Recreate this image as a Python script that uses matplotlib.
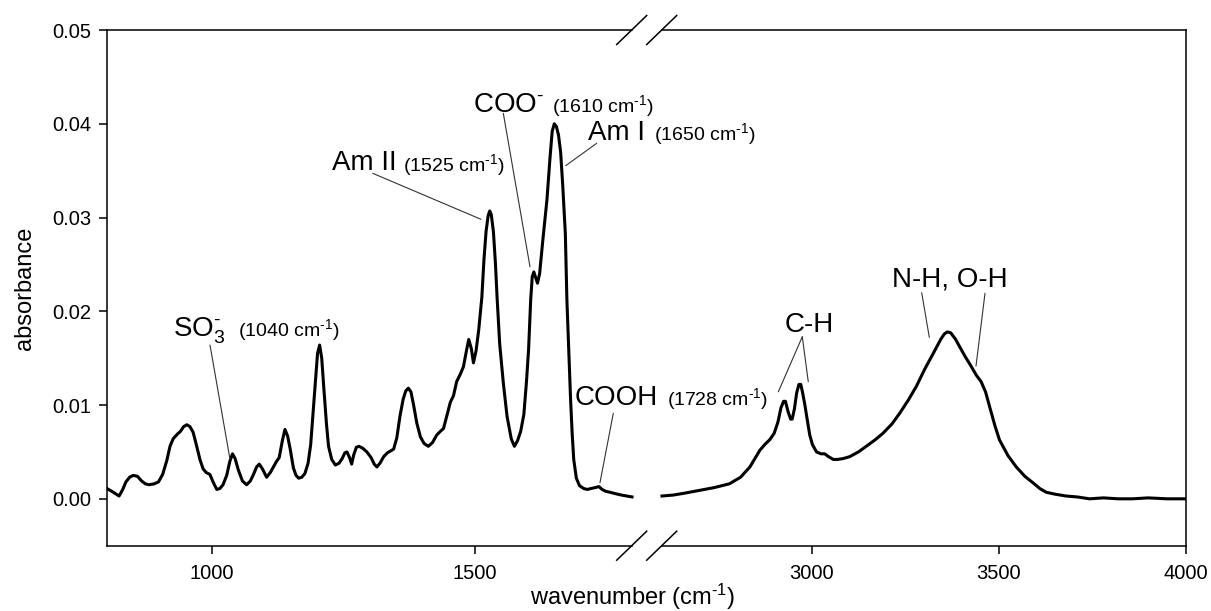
import numpy as np
import matplotlib
matplotlib.use("Agg")
import matplotlib.pyplot as plt
from matplotlib.ticker import FixedLocator, FormatStrFormatter

plt.rcParams['font.family'] = ['Liberation Sans', 'DejaVu Sans']
plt.rcParams['mathtext.fontset'] = 'custom'
plt.rcParams['mathtext.rm'] = 'Liberation Sans'
plt.rcParams['mathtext.it'] = 'Liberation Sans:italic'
plt.rcParams['mathtext.bf'] = 'Liberation Sans:bold'

# ---------------- data ----------------
left_wn = [800, 812, 823, 830, 836, 843, 850, 858, 866, 873, 880, 890, 898, 906, 914, 920, 926, 934, 940, 946,
           952, 958, 964, 970, 977, 983, 989, 996, 1002, 1009, 1015, 1021, 1028, 1034, 1039, 1044, 1050, 1058,
           1066, 1073, 1079, 1085, 1090, 1096, 1104, 1111, 1117, 1123, 1128, 1134, 1139, 1144, 1149, 1155, 1160,
           1165, 1171, 1177, 1183, 1188, 1193, 1197, 1201, 1205, 1209, 1213, 1218, 1222, 1228, 1235, 1242, 1248,
           1253, 1257, 1262, 1266, 1270, 1275, 1280, 1287, 1295, 1303, 1309, 1314, 1320, 1327, 1334, 1340, 1346,
           1352, 1358, 1364, 1369, 1374, 1379, 1384, 1390, 1397, 1404, 1412, 1420, 1428, 1435, 1441, 1447, 1454,
           1460, 1466, 1473, 1479, 1484, 1489, 1494, 1498, 1503, 1508, 1514, 1518, 1522, 1526, 1529, 1532, 1536,
           1540, 1543, 1548, 1555, 1562, 1570, 1576, 1582, 1588, 1594, 1599, 1603, 1607, 1610, 1613, 1616, 1620,
           1624, 1630, 1638, 1644, 1648, 1652, 1656, 1660, 1664, 1668, 1673, 1676, 1680, 1683, 1686, 1689, 1694,
           1700, 1708, 1715, 1722, 1730, 1737, 1743, 1750, 1758, 1765, 1772, 1780, 1790, 1800]
left_abs = [0.0011, 0.0007, 0.0003, 0.0010, 0.0018, 0.0023, 0.0025, 0.0024, 0.0019, 0.0016, 0.0015, 0.0016,
            0.0018, 0.0026, 0.0041, 0.0056, 0.0064, 0.0069, 0.0072, 0.0077, 0.0079, 0.0077, 0.0071, 0.0058,
            0.0042, 0.0032, 0.0028, 0.0026, 0.0018, 0.0010, 0.0011, 0.0015, 0.0025, 0.0040, 0.0048, 0.0043,
            0.0031, 0.0019, 0.0015, 0.0019, 0.0026, 0.0034, 0.0037, 0.0032, 0.0023, 0.0028, 0.0034, 0.0040,
            0.0044, 0.0062, 0.0074, 0.0067, 0.0053, 0.0033, 0.0025, 0.0022, 0.0023, 0.0027, 0.0038, 0.0058,
            0.0095, 0.0125, 0.0155, 0.0164, 0.0150, 0.0118, 0.0080, 0.0056, 0.0042, 0.0036, 0.0038, 0.0043,
            0.0049, 0.0050, 0.0044, 0.0037, 0.0047, 0.0055, 0.0056, 0.0054, 0.0050, 0.0044, 0.0037, 0.0034,
            0.0038, 0.0045, 0.0049, 0.0051, 0.0053, 0.0065, 0.0088, 0.0106, 0.0115, 0.0118, 0.0114, 0.0100,
            0.0081, 0.0066, 0.0059, 0.0056, 0.0060, 0.0068, 0.0072, 0.0075, 0.0088, 0.0103, 0.0110, 0.0125,
            0.0133, 0.0141, 0.0156, 0.0170, 0.0160, 0.0145, 0.0158, 0.0180, 0.0215, 0.0255, 0.0285, 0.0302,
            0.0307, 0.0303, 0.0285, 0.0250, 0.0215, 0.0165, 0.0123, 0.0088, 0.0064, 0.0056, 0.0062, 0.0072,
            0.0090, 0.0125, 0.0159, 0.0212, 0.0237, 0.0242, 0.0237, 0.0230, 0.0240, 0.0275, 0.0319, 0.0365,
            0.0392, 0.0400, 0.0397, 0.0388, 0.0370, 0.0335, 0.0283, 0.0212, 0.0150, 0.0106, 0.0070, 0.0042,
            0.0022, 0.0014, 0.0011, 0.0010, 0.0011, 0.0012, 0.0013, 0.0010, 0.0008, 0.0007, 0.0006, 0.0005,
            0.0004, 0.0003, 0.0002]

right_wn = [2600, 2630, 2660, 2700, 2740, 2780, 2810, 2835, 2850, 2862, 2875, 2888, 2900, 2910, 2918, 2925,
            2930, 2937, 2944, 2948, 2954, 2960, 2966, 2971, 2976, 2982, 2988, 2995, 3002, 3013, 3025, 3035,
            3045, 3058, 3070, 3085, 3102, 3125, 3146, 3170, 3191, 3215, 3235, 3258, 3280, 3302, 3325, 3345,
            3355, 3363, 3372, 3385, 3396, 3410, 3427, 3440, 3453, 3465, 3476, 3490, 3502, 3525, 3547, 3570,
            3592, 3610, 3627, 3650, 3680, 3710, 3743, 3780, 3820, 3858, 3900, 3950, 4000]
right_abs = [0.0003, 0.0004, 0.0006, 0.0009, 0.0012, 0.0016, 0.0023, 0.0034, 0.0044, 0.0052, 0.0058, 0.0063,
             0.0070, 0.0082, 0.0097, 0.0104, 0.0104, 0.0093, 0.0085, 0.0085, 0.0096, 0.0113, 0.0122, 0.0122,
             0.0113, 0.0100, 0.0085, 0.0068, 0.0058, 0.0050, 0.0048, 0.0048, 0.0045, 0.0042, 0.0042, 0.0043,
             0.0045, 0.0050, 0.0056, 0.0063, 0.0070, 0.0080, 0.0091, 0.0105, 0.0120, 0.0138, 0.0155, 0.0170,
             0.0176, 0.0178, 0.0177, 0.0170, 0.0162, 0.0152, 0.0141, 0.0132, 0.0125, 0.0114, 0.0098, 0.0078,
             0.0063, 0.0046, 0.0034, 0.0024, 0.0017, 0.0011, 0.0007, 0.0005, 0.0003, 0.0002, 0.0000, 0.0001,
             0.0000, 0.0000, 0.0001, 0.0000, 0.0000]

x_ticks = [1000, 1500, 3000, 3500, 4000]
y_ticks = [0.00, 0.01, 0.02, 0.03, 0.04, 0.05]

# ---------------- broken x scale ----------------
def fwd(x):
    x = np.asarray(x, float)
    return np.where(x <= 1800, (x - 800) * 0.525,
                    np.where(x >= 2600, 555 + (x - 2600) * 0.37407,
                             525 + (x - 1800) * 30 / 800))

def inv(u):
    u = np.asarray(u, float)
    return np.where(u <= 525, 800 + u / 0.525,
                    np.where(u >= 555, 2600 + (u - 555) / 0.37407,
                             1800 + (u - 525) * 800 / 30))

W, H = 1211, 611
fig = plt.figure(figsize=(W / 100, H / 100), dpi=100)
AX_L, AX_R, AX_T, AX_B = 107, 1185.7, 30, 545.7
ax = fig.add_axes([AX_L / W, 1 - AX_B / H, (AX_R - AX_L) / W, (AX_B - AX_T) / H])
ax.set_xscale('function', functions=(fwd, inv))

ax.plot(left_wn, left_abs, color='black', lw=2.2, solid_joinstyle='round')
ax.plot(right_wn, right_abs, color='black', lw=2.2, solid_joinstyle='round')

ax.set_xlim(800, 4000)
ax.set_ylim(-0.005, 0.05)
ax.xaxis.set_major_locator(FixedLocator(x_ticks))
ax.xaxis.set_minor_locator(FixedLocator([]))
ax.yaxis.set_major_locator(FixedLocator(y_ticks))
ax.yaxis.set_major_formatter(FormatStrFormatter('%.2f'))
ax.tick_params(axis='both', direction='out', length=5.5, width=1.1, labelsize=14.5, pad=6)
ax.tick_params(axis='x', pad=8)

for s in ['left', 'right']:
    ax.spines[s].set_linewidth(1.1)
ax.spines['top'].set_visible(False)
ax.spines['bottom'].set_visible(False)

def px2ax(px, py):
    return ((px - AX_L) / (AX_R - AX_L), (AX_B - py) / (AX_B - AX_T))

# top/bottom frame with break
b1 = px2ax(631.7, 0)[0]
b2 = px2ax(661.7, 0)[0]
for yy in (0, 1):
    ax.plot([0, b1], [yy, yy], transform=ax.transAxes, color='black', lw=1.1, clip_on=False)
    ax.plot([b2, 1], [yy, yy], transform=ax.transAxes, color='black', lw=1.1, clip_on=False)
    for bx in (b1, b2):
        dx = 15 / (AX_R - AX_L)
        dy = 14.5 / (AX_B - AX_T)
        ax.plot([bx - dx, bx + dx], [yy - dy, yy + dy], transform=ax.transAxes,
                color='black', lw=1.1, clip_on=False)

SUP = r'$^{\text{-1}}$'
ax.set_ylabel('absorbance', fontsize=17, va='center')
ax.yaxis.set_label_coords(px2ax(25, 0)[0], 0.5)
ax.set_xlabel('wavenumber (cm' + SUP + ')', fontsize=17, va='baseline')
ax.xaxis.set_label_coords(px2ax(633, 0)[0], px2ax(0, 605)[1])

# ---------------- annotations ----------------
BIG, SMALL = 20, 14
def label(px, py, s, size):
    x, y = px2ax(px, py)
    ax.text(x, y, s, transform=ax.transAxes, fontsize=size, ha='left', va='baseline')

label(173.3, 336.5, r'SO$_3^{\text{-}}$', BIG)
label(238.3, 336.5, '(1040 cm' + SUP + ')', SMALL)
label(331.7, 170, 'Am II', BIG)
label(403, 171, '(1525 cm' + SUP + ')', SMALL)
label(473, 112, r'COO$^{\text{-}}$', BIG)
label(551.7, 112, '(1610 cm' + SUP + ')', SMALL)
label(588, 140, 'Am I', BIG)
label(654, 140, '(1650 cm' + SUP + ')', SMALL)
label(575, 405, 'COOH', BIG)
label(666.7, 405, '(1728 cm' + SUP + ')', SMALL)
label(785, 331.7, 'C-H', BIG)
label(891.7, 286.7, 'N-H, O-H', BIG)

def leader(px, py, xd, yd):
    ax.annotate('', xy=(xd, yd), xycoords='data', xytext=px2ax(px, py), textcoords='axes fraction',
                arrowprops=dict(arrowstyle='-', color='#333333', lw=0.8, shrinkA=0, shrinkB=0))

leader(210, 345, 1034.3, 0.00421)
leader(372.7, 173.3, 1512.4, 0.02981)
leader(503.3, 113.3, 1605.7, 0.02475)
leader(596.7, 143.3, 1673.7, 0.03553)
leader(613.3, 413.3, 1739, 0.00172)
leader(802.3, 336.7, 2911, 0.01142)
leader(802.3, 336.7, 2991, 0.01249)
leader(921.7, 292.7, 3314.6, 0.01722)
leader(985, 293.3, 3439.4, 0.01416)

fig.savefig('out.png', dpi=100)
